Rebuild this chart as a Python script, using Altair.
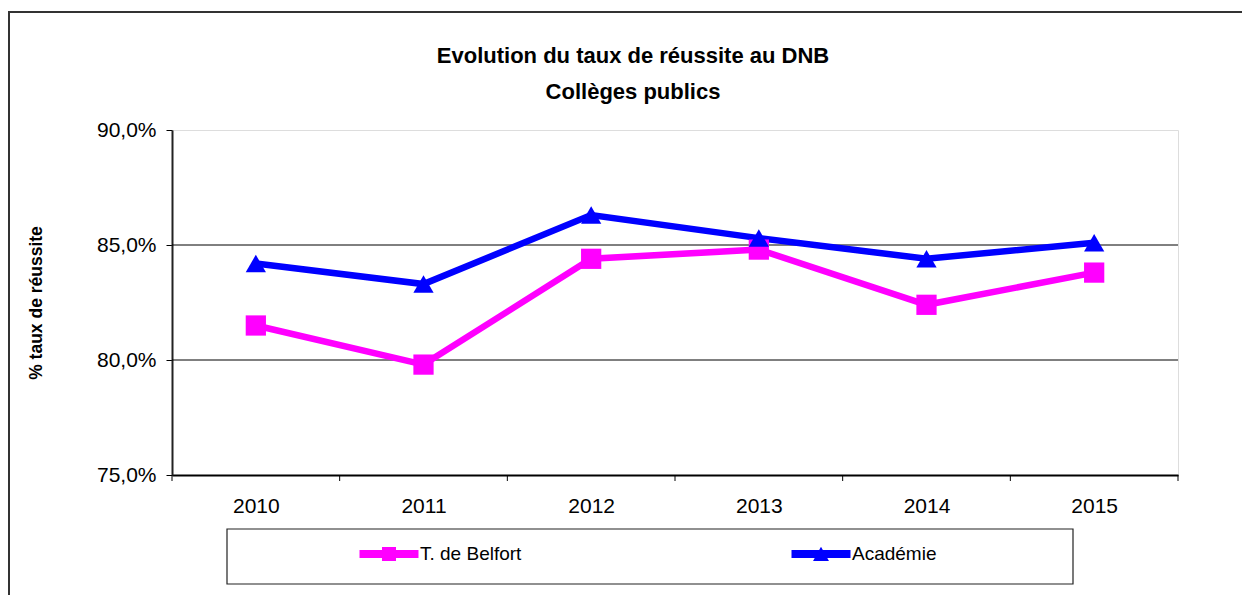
import altair as alt
import pandas as pd

years = [2010, 2011, 2012, 2013, 2014, 2015]
belfort = [81.5, 79.8, 84.4, 84.8, 82.4, 83.8]
academie = [84.2, 83.3, 86.3, 85.3, 84.4, 85.1]
series_names = ["T. de Belfort", "Académie"]
series_colors = ["#FF00FF", "#0000FF"]
y_ticks = [75, 80, 85, 90]
grid_values = [80, 85]
x_boundaries = [2009.5, 2010.5, 2011.5, 2012.5, 2013.5, 2014.5, 2015.5]
title_lines = ["Evolution du taux de réussite au DNB", "Collèges publics"]
y_title = "% taux de réussite"

W, H = 1006, 345
FONT = "Liberation Sans"

rows = []
for name, vals in zip(series_names, [belfort, academie]):
    for yr, v in zip(years, vals):
        rows.append({"year": yr, "value": v, "series": name})
df = pd.DataFrame(rows)
grid_df = pd.DataFrame({"g": grid_values})
tick_df = pd.DataFrame({"b": x_boundaries})
one = pd.DataFrame({"k": [0]})

x_scale = alt.Scale(domain=[2009.5, 2015.5], nice=False, zero=False)
y_scale = alt.Scale(domain=[75, 90], nice=False, zero=False)
color_scale = alt.Scale(domain=series_names, range=series_colors)

x_enc = alt.X("year:Q", scale=x_scale, axis=alt.Axis(
    values=years, ticks=False, tickSize=0, labelFontSize=21, labelFont=FONT,
    labelColor="black", labelPadding=20, domainColor="black", domainWidth=2,
    grid=False, title=None, format="d"))
y_enc = alt.Y("value:Q", scale=y_scale, axis=alt.Axis(
    values=y_ticks, tickSize=6, tickColor="black", tickWidth=1,
    labelFontSize=21, labelFont=FONT, labelColor="black", labelPadding=10,
    labelExpr="replace(format(datum.value, '.1f'), '.', ',') + '%'",
    domainColor="#222222", domainWidth=2, grid=False,
    title=y_title, titleFont=FONT, titleFontSize=17.5, titleFontWeight="bold",
    titleColor="black", titleAngle=270, titleX=-136, titleY=H / 2,
    titleAlign="center", titleBaseline="middle"))

frame = alt.Chart(one).mark_rect(fill=None, stroke="#333333", strokeWidth=2).encode(
    x=alt.value(-163), y=alt.value(-118), x2=alt.value(W + 100), y2=alt.value(H + 150))

legend_box = alt.Chart(one).mark_rect(fill="white", stroke="#222222", strokeWidth=1.2).encode(
    x=alt.value(55), y=alt.value(399), x2=alt.value(901), y2=alt.value(454))

grid = alt.Chart(grid_df).mark_rule(color="black", strokeWidth=1).encode(
    y=alt.Y("g:Q", scale=y_scale))

xticks = alt.Chart(tick_df).mark_rule(color="black", strokeWidth=1).encode(
    x=alt.X("b:Q", scale=x_scale), y=alt.value(H), y2=alt.value(H + 6))

lines = alt.Chart(df).mark_line(strokeWidth=6.5).encode(
    x=x_enc, y=y_enc,
    color=alt.Color("series:N", scale=color_scale, legend=None),
    detail="series:N")

points = alt.Chart(df).mark_point(filled=True, opacity=1, size=410).encode(
    x=alt.X("year:Q", scale=x_scale),
    y=alt.Y("value:Q", scale=y_scale),
    color=alt.Color("series:N", scale=color_scale, legend=None),
    shape=alt.Shape("series:N", scale=alt.Scale(domain=series_names, range=["square", "triangle-up"]), legend=None))

sq_path = "M-2,-0.27H2V0.27H-2Z M-0.475,-0.475H0.475V0.475H-0.475Z"
tri_path = "M-2,-0.27H2V0.27H-2Z M0,-0.5L0.54,0.475H-0.54Z"

def make_legend():
    return alt.Legend(
        orient="none", legendX=202, legendY=409, direction="horizontal", columns=2,
        title=None, labelFontSize=19, labelFont=FONT, labelColor="black",
        labelOffset=16, columnPadding=269, symbolSize=870, symbolStrokeWidth=0,
        padding=0)

legend_layer = alt.Chart(df).transform_filter("false").mark_point(filled=True, opacity=1).encode(
    color=alt.Color("series:N", scale=color_scale, legend=make_legend()),
    shape=alt.Shape("series:N", scale=alt.Scale(domain=series_names, range=[sq_path, tri_path]),
                    legend=make_legend()))

chart = alt.layer(frame, legend_box, grid, xticks, lines, points, legend_layer).resolve_scale(
    color="independent", shape="independent"
).properties(
    width=W, height=H,
    title=alt.Title(title_lines, fontSize=22, font=FONT, fontWeight="bold", color="black",
                    lineHeight=36, anchor="middle", frame="group", offset=26, dx=-42, dy=119),
    autosize=alt.AutoSizeParams(type="none"),
    padding={"left": 164, "top": 122, "right": 64, "bottom": 120},
).configure_view(stroke="#808080", strokeWidth=2).configure(background="white")

chart.save("out.html", embed_options={"renderer": "svg", "actions": False})
